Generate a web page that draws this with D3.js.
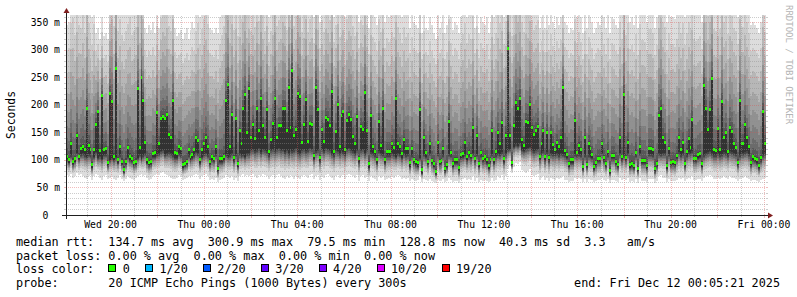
<!DOCTYPE html>
<html>
<meta charset="utf-8">
<title>SmokePing</title>
<head>
  <script src="https://cdnjs.cloudflare.com/ajax/libs/d3/7.8.5/d3.min.js"></script>
  <style>
    body { margin: 0; background: #fff; }
    text { font-family: "DejaVu Sans Mono", monospace; white-space: pre; }
  </style>
</head>
<body>
<script>
// one value per 5 minute step (ms)
var medianMs = [
  106,100,130,97,102,145,107,121,124,119,194,127,118,91,118,165,188,117,216,118,
  121,95,220,206,106,265,100,125,98,83,97,122,106,103,95,97,229,122,250,207,
  132,100,95,97,112,113,186,129,175,179,176,182,147,141,208,113,111,124,121,91,
  94,97,118,106,110,118,141,135,100,118,130,141,125,97,106,103,125,85,102,102,
  106,208,236,125,182,104,175,93,153,130,193,218,149,
  230,140,165,139,193,153,212,162,141,191,115,137,166,212,141,162,162,193,193,153,
  232,158,262,145,156,221,215,131,165,209,134,166,165,108,232,191,104,156,133,177,
  173,162,224,116,152,200,125,180,187,119,172,182,174,143,130,179,103,161,155,223,
  154,93,180,124,115,101,170,127,194,100,115,116,115,129,122,212,130,124,111,137,
  121,121,95,120,100,97,95,191,83,
  140,113,98,129,99,93,79,132,97,99,121,84,92,170,114,93,100,100,86,109,
  111,131,106,114,108,159,103,145,93,114,103,106,100,89,101,153,100,116,149,130,
  168,102,145,302,145,95,162,205,193,212,137,127,169,168,200,159,147,153,161,107,
  130,153,106,150,104,149,128,118,131,124,141,232,117,109,93,100,100,171,114,127,
  119,88,140,92,129,121,109,88,95,
  103,103,130,104,94,115,81,108,108,97,92,141,106,219,105,132,91,94,90,114,
  85,124,99,99,99,89,120,120,118,84,94,180,194,141,132,89,121,96,97,95,
  108,141,118,132,94,116,139,123,173,103,103,109,112,93,235,194,155,191,247,118,
  117,157,118,206,141,150,115,159,151,129,122,96,207,130,130,165,140,124,95,106,
  103,100,90,104,187,129
];
// 10th of the 20 sorted pings (bottom of the dark core)
var tenthMs = [
  101,95,108,92,97,112,102,110,112,108,106,110,108,86,106,114,104,107,102,109,
  110,90,100,104,100,106,95,108,93,78,92,106,100,98,90,92,104,110,102,108,
  112,95,90,92,105,106,110,112,116,118,110,112,114,112,108,104,104,112,108,86,
  89,92,108,100,104,108,114,112,95,106,110,112,108,92,100,98,110,80,97,97,
  100,110,106,108,112,98,110,88,112,108,110,106,112,
  112,118,120,116,118,122,114,120,118,116,108,118,120,116,120,122,118,120,114,118,
  112,120,116,118,122,114,112,118,120,116,118,122,120,102,116,118,98,120,116,122,
  120,118,112,108,118,116,112,118,114,110,120,122,118,116,112,118,96,118,120,112,
  118,86,114,112,108,95,116,112,110,94,108,108,108,112,110,106,112,110,104,112,
  108,110,88,108,94,90,88,104,76,
  110,106,93,112,94,88,74,110,92,94,108,79,87,110,108,88,95,95,81,104,
  106,110,100,108,103,112,98,110,88,108,98,100,95,84,96,110,95,108,112,110,
  114,97,112,118,120,90,124,128,126,130,118,116,120,122,124,118,116,118,120,102,
  112,116,100,114,99,112,110,110,112,108,112,110,108,104,88,95,95,110,108,110,
  108,83,108,87,108,106,104,83,90,
  98,98,112,99,89,108,76,103,103,92,87,112,101,108,100,112,86,89,85,108,
  80,112,94,94,94,84,110,110,108,79,89,112,110,112,112,84,110,91,92,90,
  103,114,108,112,89,108,114,112,116,98,98,104,106,88,108,112,114,116,112,108,
  108,112,108,110,114,112,108,116,114,112,110,91,108,112,112,114,116,110,90,100,
  98,95,85,99,108,112
];
// fastest ping of each step
var minMs = [
  72,70,74,68,70,76,72,74,70,68,66,70,72,64,70,74,72,68,64,70,
  72,66,68,70,66,64,68,72,66,62,66,70,68,66,64,68,70,72,74,70,
  72,68,64,66,70,72,74,72,76,78,74,72,70,68,66,66,68,72,70,64,
  66,68,70,68,70,72,74,72,66,70,72,74,70,64,66,64,68,60,64,66,
  68,72,70,68,70,64,68,62,70,72,74,70,72,
  70,72,74,70,68,72,70,74,72,70,66,70,72,68,72,74,70,68,66,70,
  68,72,70,66,70,68,66,70,72,70,68,72,74,66,70,72,64,70,68,72,
  74,70,68,64,70,72,68,70,72,66,72,74,72,70,68,72,62,70,72,68,
  70,62,70,68,66,62,70,68,70,64,66,68,66,70,68,70,72,70,66,68,
  66,68,62,66,64,62,64,70,60,
  66,64,62,66,62,60,58,64,62,62,66,60,62,68,64,60,62,62,58,64,
  66,68,64,66,64,70,62,68,60,64,62,64,62,60,62,68,62,64,70,68,
  72,64,70,84,90,76,88,94,92,96,82,80,76,80,84,72,70,72,74,64,
  68,70,64,68,62,68,66,64,68,66,68,70,64,64,60,62,62,68,66,68,
  66,60,66,60,66,64,64,60,62,
  64,64,68,64,62,66,58,64,64,62,60,68,64,66,64,68,60,62,60,66,
  58,68,62,62,62,60,66,66,66,58,62,70,72,68,68,60,66,62,62,62,
  64,68,66,68,62,66,68,66,70,64,64,66,66,62,68,70,70,72,70,66,
  66,68,66,68,70,68,66,70,68,68,66,62,66,68,68,70,68,66,62,64,
  64,62,60,64,66,68
];
// slowest ping of each step (above 363 is off the graph)
var maxMs = [
  345,350,400,420,380,440,400,390,420,380,460,400,380,360,400,330,340,320,360,325,
  330,320,420,440,400,480,390,410,380,370,390,400,420,380,390,400,460,420,480,440,
  340,330,345,335,350,330,380,340,400,420,410,430,390,380,440,340,325,330,335,320,
  330,340,320,335,350,340,380,400,360,390,410,420,400,340,335,330,340,330,360,380,
  400,460,480,420,440,390,430,380,420,410,440,460,420,
  400,380,420,390,440,400,460,410,380,430,360,380,420,460,390,400,410,440,430,380,
  460,400,480,390,410,450,440,380,410,440,380,400,410,360,450,420,350,400,380,430,
  420,400,450,360,390,430,370,410,420,360,400,420,410,390,370,420,350,400,390,440,
  390,340,410,370,360,345,400,380,420,350,370,360,365,380,370,430,390,380,360,390,
  370,380,340,370,350,345,340,410,330,
  380,340,335,360,345,330,320,370,340,350,380,330,345,400,360,335,350,345,330,360,
  380,400,360,380,370,410,340,390,330,360,350,345,360,330,350,420,360,380,420,400,
  430,360,400,520,440,380,420,460,440,460,400,380,420,410,440,400,380,390,400,340,
  360,380,340,380,345,370,350,340,360,345,360,400,350,345,330,340,335,400,360,380,
  360,330,380,340,370,360,350,330,340,
  350,345,380,360,340,370,330,360,355,345,340,400,370,460,380,400,350,360,345,380,
  340,400,370,370,365,350,390,390,380,340,360,430,450,400,390,350,380,360,360,355,
  370,400,380,400,360,380,400,390,430,370,365,370,375,350,470,440,410,440,480,390,
  385,420,390,450,400,410,380,420,410,390,385,360,440,390,390,420,400,380,345,350,
  345,340,330,350,430,380
];
var yTicks = [0, 50, 100, 150, 200, 250, 300, 350];
var lossLabels = ['0', '1/20', '2/20', '3/20', '4/20', '10/20', '19/20'];
var lossColors = ['#26ff00', '#00b8ff', '#0059ff', '#5e00ff', '#7e00ff', '#dd00ff', '#ff0000'];
var statLines = [
  'median rtt:  134.7 ms avg  300.9 ms max  79.5 ms min  128.8 ms now  40.3 ms sd  3.3   am/s',
  'packet loss: 0.00 % avg  0.00 % max  0.00 % min  0.00 % now'
];
var probeLine = 'probe:       20 ICMP Echo Pings (1000 Bytes) every 300s';
var endLine = 'end: Fri Dec 12 00:05:21 2025';
var endTime = new Date(2025, 11, 12, 0, 5, 21);
var startTime = new Date(endTime.getTime() - 30 * 3600 * 1000);

var X0 = 66, X1 = 766, Y0 = 215, Y1 = 15;
var GRID = 'rgba(143,143,143,0.45)', MGRID = 'rgba(222,79,79,0.38)';
var ARROW = '#801f1f', AXIS = '#1f1f1f';

var svg = d3.select('body').append('svg')
    .attr('width', 797)
    .attr('height', 297);
svg.append('rect').attr('width', 797).attr('height', 297).attr('fill', '#fff');

var x = d3.scaleTime().domain([startTime, endTime]).range([X0, X1]);
var y = d3.scaleLinear().domain([0, 363]).range([Y0, Y1]);

svg.append('clipPath').attr('id', 'plot')
  .append('rect').attr('x', X0).attr('y', Y1).attr('width', X1 - X0).attr('height', Y0 - Y1);

// rebuild 20 sorted pings per step from the four read values
var N = medianMs.length;
var dt = (endTime - startTime) / N;
var steps = medianMs.map(function(m, i) {
  var core = Math.max(Math.min(tenthMs[i], m), minMs[i]);
  var lower = d3.range(10).map(function(k) {
    return minMs[i] + (core - minMs[i]) * Math.pow(k / 9, 0.5);
  });
  var upper = d3.range(10).map(function(k) {
    return m + (maxMs[i] - m) * Math.pow(k / 9, 1.8);
  });
  return {t: new Date(startTime.getTime() + i * dt), med: m, p: lower.concat(upper)};
});
var last = steps[N - 1];
var stepsEnd = steps.concat([{t: endTime, med: last.med, p: last.p}]);

// smoke: band j spans ping j .. ping 21-j, outer bands lighter
var plot = svg.append('g').attr('clip-path', 'url(#plot)');
d3.range(1, 11).forEach(function(j) {
  var g = Math.floor(190 / 10 * (10 - j)) + 50;
  var area = d3.area()
    .curve(d3.curveStepAfter)
    .x(function(d) { return x(d.t); })
    .y0(function(d) { return y(d.p[j - 1]); })
    .y1(function(d) { return y(d.p[20 - j]); });
  plot.append('path')
    .datum(stepsEnd)
    .attr('d', area)
    .attr('fill', d3.rgb(g, g, g))
    .attr('shape-rendering', 'crispEdges');
});

// median marks, coloured by loss (all 0 here)
plot.selectAll('rect.med')
  .data(steps)
  .enter()
  .append('rect')
  .attr('class', 'med')
  .attr('x', function(d) { return x(d.t); })
  .attr('width', function(d) { return x(new Date(d.t.getTime() + dt)) - x(d.t); })
  .attr('y', function(d) { return y(d.med) - 1.5; })
  .attr('height', 3)
  .attr('fill', lossColors[0])
  .attr('shape-rendering', 'crispEdges');

// grid on top: minor every hour, major every 2 hours, labels every 4
var grid = svg.append('g').attr('shape-rendering', 'crispEdges');
var hours = d3.timeHour.range(d3.timeHour.ceil(startTime), endTime);
hours.forEach(function(h) {
  var major = h.getHours() % 2 === 0;
  var px = Math.round(x(h)) + 0.5;
  grid.append('line')
    .attr('x1', px).attr('x2', px).attr('y1', Y0).attr('y2', Y1)
    .attr('stroke', major ? MGRID : GRID)
    .attr('stroke-dasharray', '1,1');
  grid.append('line')
    .attr('x1', px).attr('x2', px).attr('y1', Y0).attr('y2', Y0 + (major ? 3 : 2))
    .attr('stroke', major ? MGRID : GRID);
});
d3.range(10, 361, 10).forEach(function(v) {
  var major = v % 50 === 0;
  var py = Math.round(y(v)) + 0.5;
  grid.append('line')
    .attr('x1', X0).attr('x2', X1).attr('y1', py).attr('y2', py)
    .attr('stroke', major ? MGRID : GRID)
    .attr('stroke-dasharray', '1,1');
  grid.append('line')
    .attr('x1', X0 - 2).attr('x2', X0).attr('y1', py).attr('y2', py)
    .attr('stroke', major ? MGRID : GRID);
  grid.append('line')
    .attr('x1', X1).attr('x2', X1 + 2).attr('y1', py).attr('y2', py)
    .attr('stroke', major ? MGRID : GRID);
});

// axes and arrows
grid.append('line')
  .attr('x1', X0 - 4).attr('x2', X1 + 4).attr('y1', Y0 + 0.5).attr('y2', Y0 + 0.5)
  .attr('stroke', AXIS);
grid.append('line')
  .attr('x1', X0 + 0.5).attr('x2', X0 + 0.5).attr('y1', Y0 + 4).attr('y2', Y1 - 4)
  .attr('stroke', AXIS);
svg.append('path')
  .attr('d', 'M' + (X1 + 2) + ',' + (Y0 - 2.5) + 'L' + (X1 + 2) + ',' + (Y0 + 3.5) + 'L' + (X1 + 7) + ',' + (Y0 + 0.5) + 'Z')
  .attr('fill', ARROW);
svg.append('path')
  .attr('d', 'M' + (X0 - 2.5) + ',' + (Y1 - 2) + 'L' + (X0 + 3.5) + ',' + (Y1 - 2) + 'L' + (X0 + 0.5) + ',' + (Y1 - 7) + 'Z')
  .attr('fill', ARROW);

// axis labels
svg.selectAll('text.ylab')
  .data(yTicks)
  .enter()
  .append('text')
  .attr('class', 'ylab')
  .attr('x', 60)
  .attr('y', function(d) { return y(d) + 3.5; })
  .attr('text-anchor', 'end')
  .style('font-size', '9.75px')
  .text(function(d) { return d === 0 ? '0  ' : d + ' m'; });

var fmt = d3.timeFormat('%a %H:%M');
svg.selectAll('text.xlab')
  .data(hours.filter(function(h) { return h.getHours() % 4 === 0; }))
  .enter()
  .append('text')
  .attr('class', 'xlab')
  .attr('x', function(d) { return x(d); })
  .attr('y', 228)
  .attr('text-anchor', 'middle')
  .style('font-size', '9.75px')
  .text(fmt);

svg.append('text')
  .attr('transform', 'translate(15,' + ((Y0 + Y1) / 2) + ') rotate(-90)')
  .attr('text-anchor', 'middle')
  .style('font-size', '11.4px')
  .text('Seconds');

svg.append('text')
  .attr('transform', 'translate(786,5) rotate(90)')
  .attr('fill', '#b4b4b4')
  .style('font-size', '9px')
  .text('RRDTOOL / TOBI OETIKER');

// legend block
var CW = 7.1, LX = 16;
var rows = [246, 259.6, 273.4, 287];
statLines.forEach(function(s, i) {
  svg.append('text').attr('x', LX).attr('y', rows[i]).style('font-size', '11.8px').text(s);
});
svg.append('text').attr('x', LX).attr('y', rows[2]).style('font-size', '11.8px').text('loss color:');
var bx = LX + 13 * CW;
lossLabels.forEach(function(l, i) {
  svg.append('rect')
    .attr('x', Math.round(bx) + 0.5).attr('y', rows[2] - 8.5)
    .attr('width', 7).attr('height', 7)
    .attr('fill', lossColors[i])
    .attr('stroke', '#000')
    .attr('shape-rendering', 'crispEdges');
  svg.append('text').attr('x', bx + 14.5).attr('y', rows[2]).style('font-size', '11.8px').text(l);
  bx = bx + 14.5 + l.length * CW + 15;
});
svg.append('text').attr('x', LX).attr('y', rows[3]).style('font-size', '11.8px').text(probeLine);
svg.append('text').attr('x', 780).attr('y', rows[3]).attr('text-anchor', 'end').style('font-size', '11.8px').text(endLine);
</script>
</body>
</html>
